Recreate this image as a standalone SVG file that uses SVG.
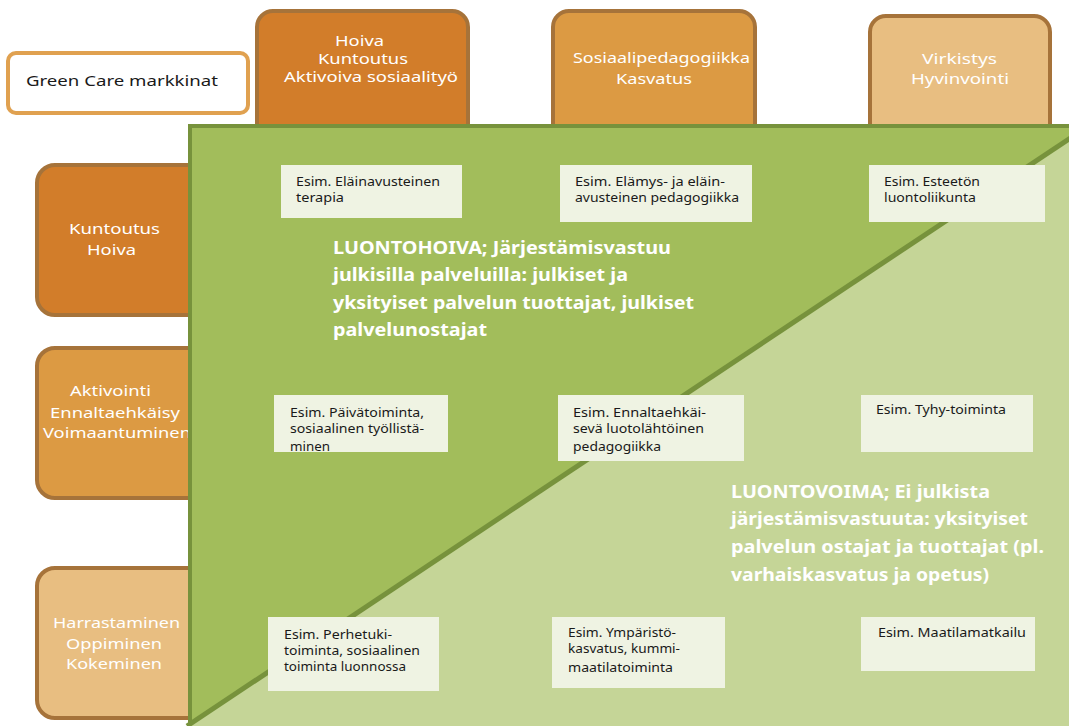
<svg xmlns="http://www.w3.org/2000/svg" width="1069" height="726" viewBox="0 0 1069 726">
<style>
.cat{stroke:#a6733a;stroke-width:4}
.c1{fill:#d27d2a}.c2{fill:#dc9a43}.c3{fill:#e8be81}
.hd{font-family:"Noto Sans","Open Sans",sans-serif;font-size:15px;fill:#ffffff}
.ex{fill:#eff3e3}
.sm{font-family:"Noto Sans","Open Sans",sans-serif;font-size:12px;fill:#1a1a1a}
.big{font-family:"Noto Sans","Open Sans",sans-serif;font-size:18px;font-weight:bold;fill:#ffffff}
</style>
<rect width="1069" height="726" fill="#ffffff"/>
<g id="green-care">
<rect x="8" y="53" width="240" height="60" rx="8" fill="#ffffff" stroke="#e0a150" stroke-width="4"/>
<text x="26" y="86" font-family="Noto Sans, sans-serif" font-size="15" fill="#1a1a1a" textLength="192" lengthAdjust="spacingAndGlyphs">Green Care markkinat</text>
</g>
<g id="col-hoiva">
<rect class="cat c1" x="257" y="11" width="211" height="130" rx="16"/>
<text class="hd" x="335" y="46" textLength="49" lengthAdjust="spacingAndGlyphs">Hoiva</text>
<text class="hd" x="318" y="64" textLength="90" lengthAdjust="spacingAndGlyphs">Kuntoutus</text>
<text class="hd" x="284" y="82" textLength="174" lengthAdjust="spacingAndGlyphs">Aktivoiva sosiaalityö</text>
</g>
<g id="col-sosiaali">
<rect class="cat c2" x="553" y="11" width="202" height="130" rx="16"/>
<text class="hd" x="573" y="63" textLength="177" lengthAdjust="spacingAndGlyphs">Sosiaalipedagogiikka</text>
<text class="hd" x="616" y="84" textLength="76" lengthAdjust="spacingAndGlyphs">Kasvatus</text>
</g>
<g id="col-virkistys">
<rect class="cat c3" x="870" y="16" width="180" height="125" rx="16"/>
<text class="hd" x="922" y="64" textLength="75" lengthAdjust="spacingAndGlyphs">Virkistys</text>
<text class="hd" x="911" y="84" textLength="98" lengthAdjust="spacingAndGlyphs">Hyvinvointi</text>
</g>
<g id="row-kuntoutus">
<rect class="cat c1" x="37" y="165" width="170" height="150" rx="18"/>
<text class="hd" x="69" y="234" textLength="91" lengthAdjust="spacingAndGlyphs">Kuntoutus</text>
<text class="hd" x="87" y="255" textLength="49" lengthAdjust="spacingAndGlyphs">Hoiva</text>
</g>
<g id="row-aktivointi">
<rect class="cat c2" x="37" y="348" width="170" height="150" rx="18"/>
<text class="hd" x="70" y="396" textLength="81" lengthAdjust="spacingAndGlyphs">Aktivointi</text>
<text class="hd" x="50" y="418" textLength="130" lengthAdjust="spacingAndGlyphs">Ennaltaehkäisy</text>
<text class="hd" x="43" y="438" textLength="148" lengthAdjust="spacingAndGlyphs">Voimaantuminen</text>
</g>
<g id="row-harrastaminen">
<rect class="cat c3" x="37" y="568" width="170" height="150" rx="18"/>
<text class="hd" x="53" y="628" textLength="127" lengthAdjust="spacingAndGlyphs">Harrastaminen</text>
<text class="hd" x="66" y="649" textLength="96" lengthAdjust="spacingAndGlyphs">Oppiminen</text>
<text class="hd" x="66" y="669" textLength="96" lengthAdjust="spacingAndGlyphs">Kokeminen</text>
</g>
<g id="field">
<rect x="190" y="126" width="890" height="620" fill="#a2bd5b" stroke="#77923c" stroke-width="4"/>
<polygon points="187,726 1069,139 1069,726" fill="#c5d597"/>
<line x1="187" y1="726" x2="1075" y2="135" stroke="#77923c" stroke-width="5"/>
</g>
<g id="connectors"></g>
<g id="ex1"><rect class="ex" x="281" y="165" width="181" height="53"/>
<text class="sm" x="296" y="186" textLength="144" lengthAdjust="spacingAndGlyphs">Esim. Eläinavusteinen</text>
<text class="sm" x="296" y="202" textLength="48" lengthAdjust="spacingAndGlyphs">terapia</text></g>
<g id="ex2"><rect class="ex" x="560" y="165" width="192" height="57"/>
<text class="sm" x="575" y="186" textLength="150" lengthAdjust="spacingAndGlyphs">Esim. Elämys- ja eläin-</text>
<text class="sm" x="575" y="202" textLength="164" lengthAdjust="spacingAndGlyphs">avusteinen pedagogiikka</text></g>
<g id="ex3"><rect class="ex" x="869" y="165" width="176" height="57"/>
<text class="sm" x="884" y="186" textLength="96" lengthAdjust="spacingAndGlyphs">Esim. Esteetön</text>
<text class="sm" x="884" y="202" textLength="92" lengthAdjust="spacingAndGlyphs">luontoliikunta</text></g>
<g id="ex4"><rect class="ex" x="274" y="395" width="174" height="57"/>
<text class="sm" x="290" y="417" textLength="134" lengthAdjust="spacingAndGlyphs">Esim. Päivätoiminta,</text>
<text class="sm" x="290" y="433" textLength="134" lengthAdjust="spacingAndGlyphs">sosiaalinen työllistä-</text>
<text class="sm" x="290" y="451" textLength="40" lengthAdjust="spacingAndGlyphs">minen</text></g>
<g id="ex5"><rect class="ex" x="558" y="395" width="186" height="66"/>
<text class="sm" x="573" y="417" textLength="133" lengthAdjust="spacingAndGlyphs">Esim. Ennaltaehkäi-</text>
<text class="sm" x="573" y="433" textLength="131" lengthAdjust="spacingAndGlyphs">sevä luotolähtöinen</text>
<text class="sm" x="573" y="451" textLength="88" lengthAdjust="spacingAndGlyphs">pedagogiikka</text></g>
<g id="ex6"><rect class="ex" x="861" y="395" width="172" height="57"/>
<text class="sm" x="876" y="414" textLength="130" lengthAdjust="spacingAndGlyphs">Esim. Tyhy-toiminta</text></g>
<g id="ex7"><rect class="ex" x="268" y="617" width="171" height="74"/>
<text class="sm" x="284" y="639" textLength="108" lengthAdjust="spacingAndGlyphs">Esim. Perhetuki-</text>
<text class="sm" x="284" y="655" textLength="136" lengthAdjust="spacingAndGlyphs">toiminta, sosiaalinen</text>
<text class="sm" x="284" y="671" textLength="122" lengthAdjust="spacingAndGlyphs">toiminta luonnossa</text></g>
<g id="ex8"><rect class="ex" x="552" y="617" width="173" height="71"/>
<text class="sm" x="568" y="637" textLength="108" lengthAdjust="spacingAndGlyphs">Esim. Ympäristö-</text>
<text class="sm" x="568" y="653" textLength="112" lengthAdjust="spacingAndGlyphs">kasvatus, kummi-</text>
<text class="sm" x="568" y="672" textLength="105" lengthAdjust="spacingAndGlyphs">maatilatoiminta</text></g>
<g id="ex9"><rect class="ex" x="861" y="617" width="174" height="54"/>
<text class="sm" x="878" y="637" textLength="148" lengthAdjust="spacingAndGlyphs">Esim. Maatilamatkailu</text></g>
<g id="luontohoiva">
<text class="big" x="333" y="254" textLength="338" lengthAdjust="spacingAndGlyphs">LUONTOHOIVA; Järjestämisvastuu</text>
<text class="big" x="333" y="281" textLength="295" lengthAdjust="spacingAndGlyphs">julkisilla palveluilla: julkiset ja</text>
<text class="big" x="333" y="309" textLength="361" lengthAdjust="spacingAndGlyphs">yksityiset palvelun tuottajat, julkiset</text>
<text class="big" x="333" y="336" textLength="154" lengthAdjust="spacingAndGlyphs">palvelunostajat</text>
</g>
<g id="luontovoima">
<text class="big" x="731" y="498" textLength="259" lengthAdjust="spacingAndGlyphs">LUONTOVOIMA; Ei julkista</text>
<text class="big" x="731" y="525" textLength="297" lengthAdjust="spacingAndGlyphs">järjestämisvastuuta: yksityiset</text>
<text class="big" x="731" y="553" textLength="313" lengthAdjust="spacingAndGlyphs">palvelun ostajat ja tuottajat (pl.</text>
<text class="big" x="731" y="581" textLength="258" lengthAdjust="spacingAndGlyphs">varhaiskasvatus ja opetus)</text>
</g>
</svg>
